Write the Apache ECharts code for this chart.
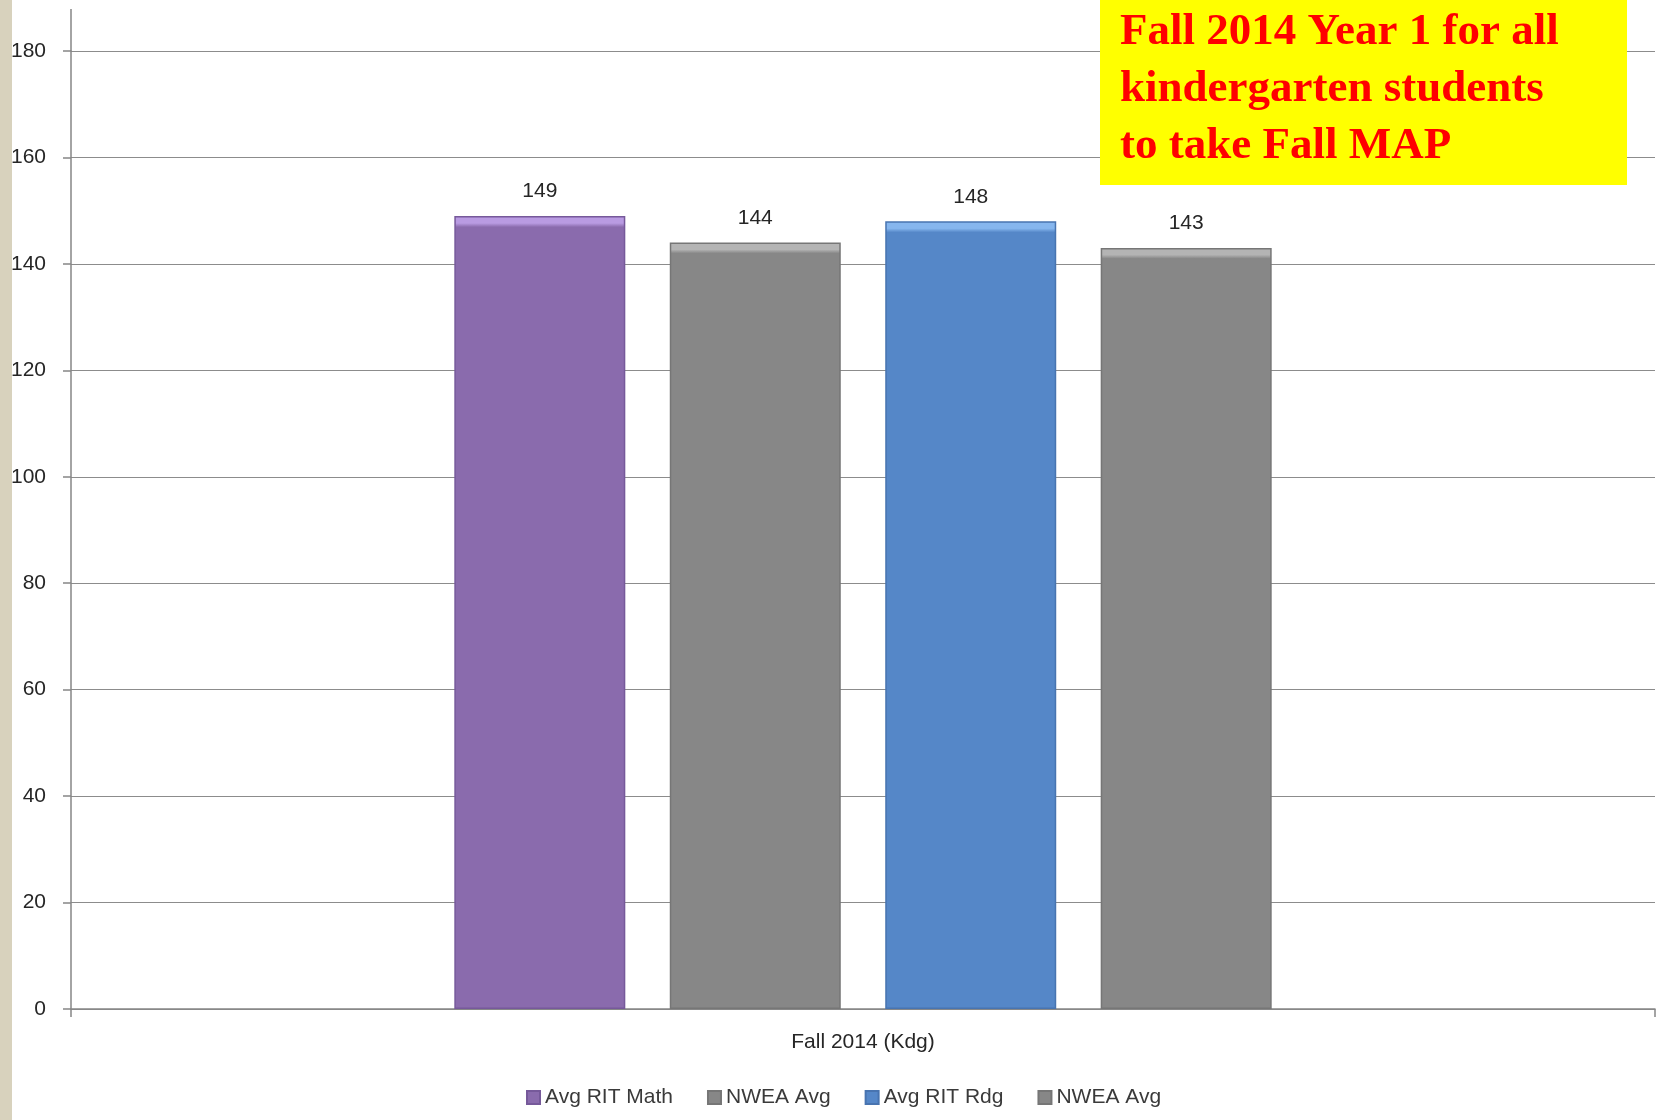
<!DOCTYPE html>
<html>
<head>
<meta charset="utf-8">
<script src="https://cdn.jsdelivr.net/npm/echarts@6/dist/echarts.min.js"></script>
<style>
html,body{margin:0;padding:0;background:#fff;}
#chart{width:1660px;height:1120px;}
</style>
</head>
<body>
<div id="chart"></div>
<script>
const categories = ['Fall 2014 (Kdg)'];
const seriesNames = ['Avg RIT Math', 'NWEA Avg', 'Avg RIT Rdg', 'NWEA Avg '];
const avgRitMath = [149];
const nweaAvgMath = [144];
const avgRitRdg = [148];
const nweaAvgRdg = [143];
const yTicks = [0, 20, 40, 60, 80, 100, 120, 140, 160, 180];
const titleText = 'Fall 2014 Year 1 for all\nkindergarten students\nto take Fall MAP';

const GRID_LEFT = 71, GRID_TOP = 51, GRID_RIGHT = 5, GRID_BOTTOM = 111;
const FONT = '"Liberation Sans", Arial, sans-serif';

function barColor(light, base) {
  return new echarts.graphic.LinearGradient(0, 0, 0, 1, [
    {offset: 0, color: light},
    {offset: 0.009, color: light},
    {offset: 0.014, color: base},
    {offset: 1, color: base}
  ]);
}
const styles = [
  {light: '#B99BE2', base: '#8A6BAD', border: '#76599A'},
  {light: '#B4B4B4', base: '#878787', border: '#767676'},
  {light: '#86B6EE', base: '#5587C8', border: '#4874B0'},
  {light: '#B4B4B4', base: '#878787', border: '#767676'}
];
const values = [avgRitMath, nweaAvgMath, avgRitRdg, nweaAvgRdg];

const chart = echarts.init(document.getElementById('chart'), null, {renderer: 'canvas'});
chart.setOption({
  backgroundColor: '#ffffff',
  animation: false,
  title: {
    text: titleText,
    left: 1100,
    top: 0,
    padding: [4, 20, 10, 20],
    backgroundColor: '#FFFF00',
    textStyle: {
      fontFamily: '"Liberation Serif", "Times New Roman", serif',
      fontWeight: 'bold',
      fontSize: 45,
      lineHeight: 57,
      color: '#FF0000',
      width: 487
    }
  },
  grid: {left: GRID_LEFT, top: GRID_TOP, right: GRID_RIGHT, bottom: GRID_BOTTOM, containLabel: false},
  legend: {
    left: 521,
    top: 1082,
    itemWidth: 13,
    itemHeight: 13,
    itemGap: 34,
    icon: 'rect',
    formatter: function (n) { return n.trim(); },
    data: seriesNames,
    textStyle: {fontFamily: FONT, fontSize: 21, color: '#3a3a3a'}
  },
  xAxis: {
    type: 'category',
    data: categories,
    boundaryGap: true,
    axisLine: {show: true, lineStyle: {color: '#868686', width: 1.5}},
    axisTick: {show: true, length: 8, lineStyle: {color: '#868686', width: 1.5}},
    axisLabel: {fontFamily: FONT, fontSize: 21, color: '#262626', margin: 23}
  },
  yAxis: {
    type: 'value',
    min: yTicks[0],
    max: yTicks[yTicks.length - 1],
    interval: yTicks[1] - yTicks[0],
    axisLine: {show: true, lineStyle: {color: '#868686', width: 1.5}},
    axisTick: {show: true, length: 8, lineStyle: {color: '#868686', width: 1.5}},
    axisLabel: {fontFamily: FONT, fontSize: 21, color: '#262626', margin: 25},
    splitLine: {show: true, lineStyle: {color: '#8C8C8C', width: 1.2}}
  },
  graphic: [
    {type: 'rect', left: 0, top: 0, shape: {width: 12, height: 1120}, style: {fill: '#D8D2BD'}, z: 10},
    {type: 'line', shape: {x1: GRID_LEFT, y1: 9, x2: GRID_LEFT, y2: GRID_TOP}, style: {stroke: '#868686', lineWidth: 1.5}, z: 1}
  ],
  series: seriesNames.map(function (name, i) {
    return {
      name: name,
      type: 'bar',
      data: values[i],
      barWidth: 171,
      barGap: '26%',
      itemStyle: {
        color: barColor(styles[i].light, styles[i].base),
        borderColor: styles[i].border,
        borderWidth: 1.5
      },
      label: {
        show: true,
        position: 'top',
        distance: 14,
        fontFamily: FONT,
        fontSize: 21,
        color: '#262626'
      }
    };
  })
});
</script>
</body>
</html>
